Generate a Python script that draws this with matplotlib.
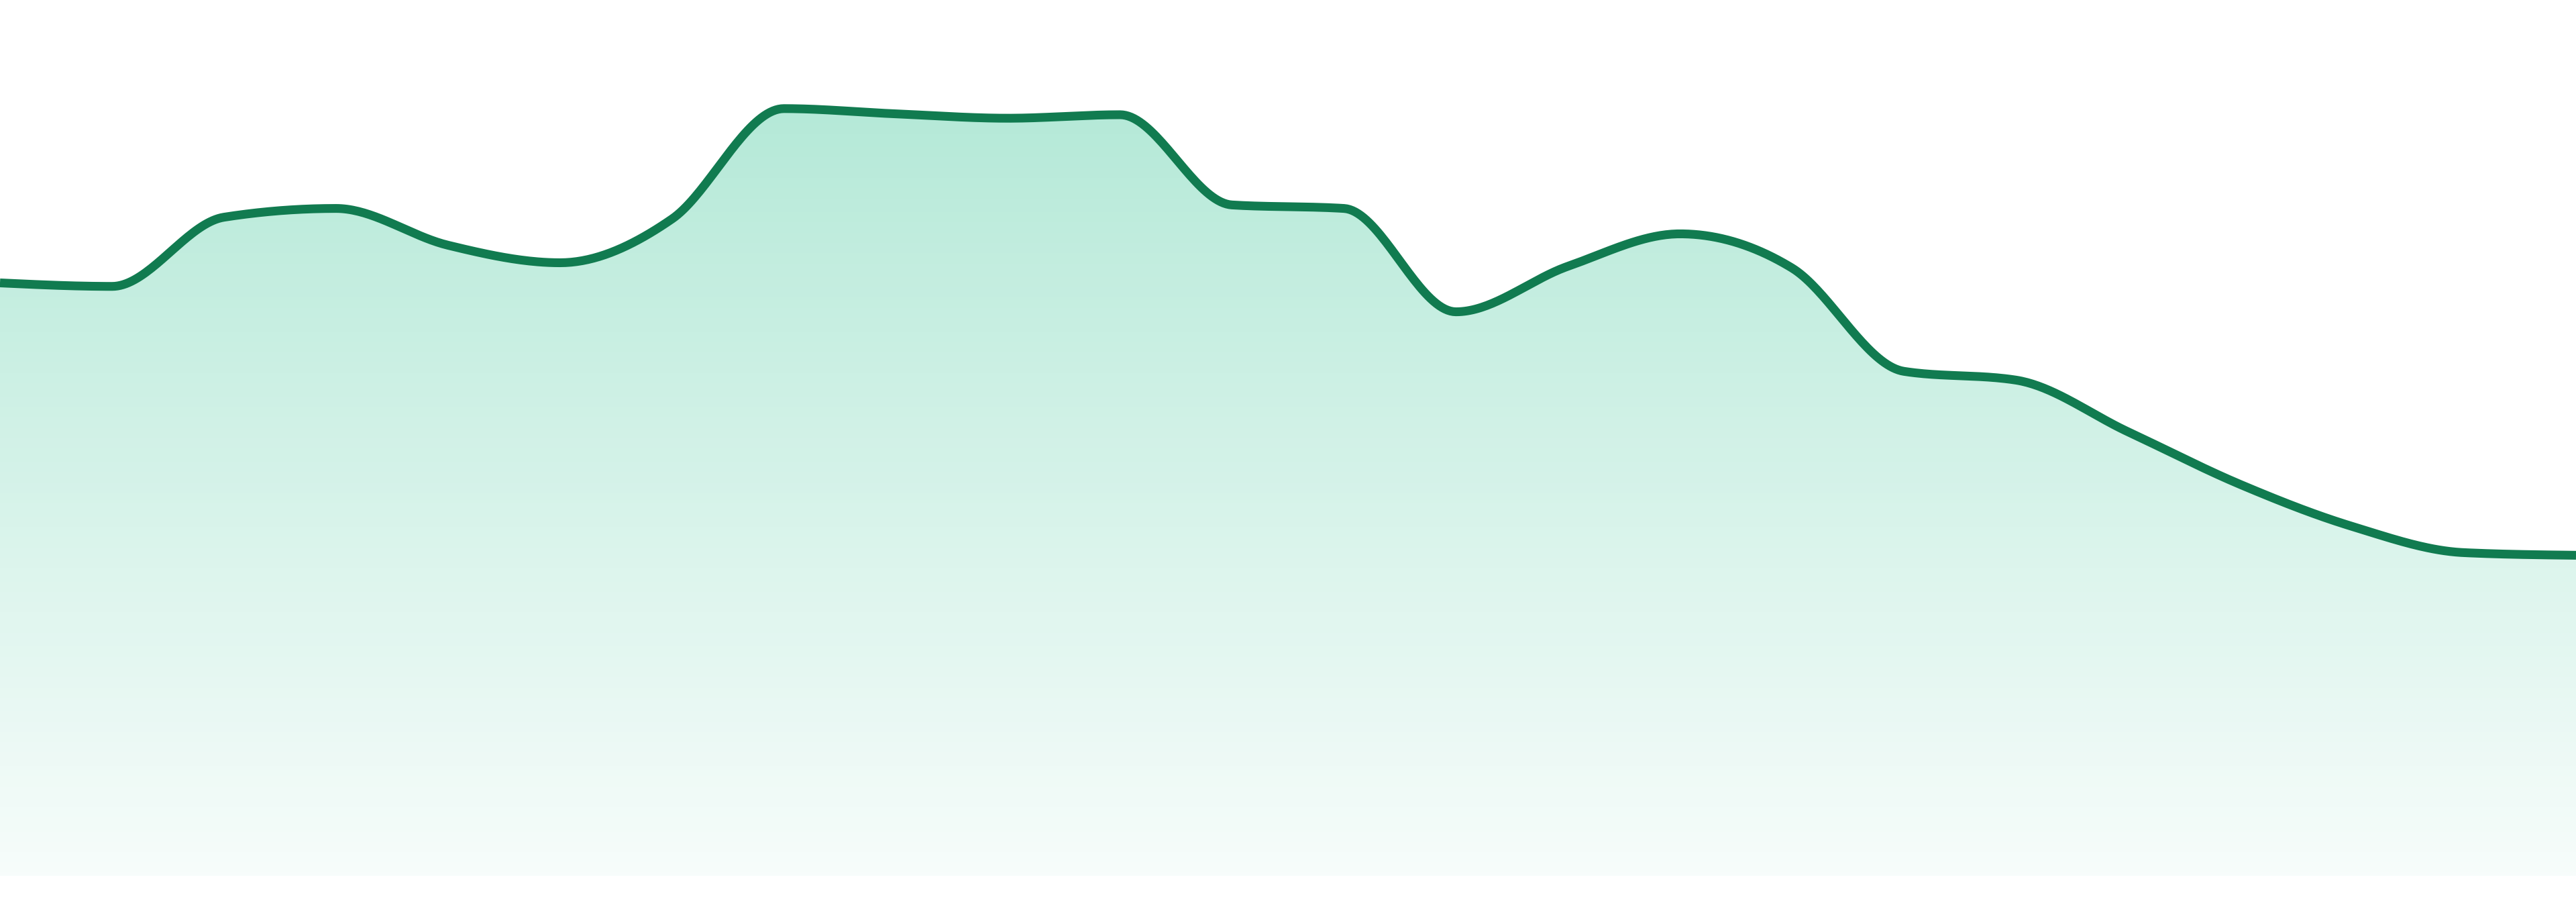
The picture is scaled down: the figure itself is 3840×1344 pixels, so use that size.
import numpy as np
import matplotlib
matplotlib.use('Agg')
import matplotlib.pyplot as plt
from matplotlib.patches import PathPatch
from matplotlib.path import Path

# values (24 evenly spaced points)
x = np.arange(24)
values = [67.7, 67.3, 75.2, 76.2, 72.0, 70.0, 75.0, 87.6, 87.0, 86.5, 86.9, 76.6,
          76.2, 64.4, 69.6, 73.3, 69.4, 57.6, 56.6, 50.7, 44.7, 39.9, 36.9, 36.6]

line_color = '#117b50'
fill_rgb = (16 / 255, 185 / 255, 129 / 255)


# monotone cubic (like d3 curveMonotoneX)
def monotone(xs, ys, n=40):
    xs = np.asarray(xs, float)
    ys = np.asarray(ys, float)
    h = np.diff(xs)
    s = np.diff(ys) / h
    t = np.zeros(len(xs))
    for i in range(1, len(xs) - 1):
        p = (s[i - 1] * h[i] + s[i] * h[i - 1]) / (h[i - 1] + h[i])
        t[i] = (np.sign(s[i - 1]) + np.sign(s[i])) * min(abs(s[i - 1]), abs(s[i]), 0.5 * abs(p))
    t[0] = (3 * s[0] - t[1]) / 2
    t[-1] = (3 * s[-1] - t[-2]) / 2
    px, py = [], []
    for i in range(len(xs) - 1):
        u = np.linspace(0, 1, n, endpoint=False)
        h00 = 2 * u**3 - 3 * u**2 + 1
        h10 = u**3 - 2 * u**2 + u
        h01 = -2 * u**3 + 3 * u**2
        h11 = u**3 - u**2
        px.append(xs[i] + u * h[i])
        py.append(h00 * ys[i] + h10 * h[i] * t[i] + h01 * ys[i + 1] + h11 * h[i] * t[i + 1])
    px.append([xs[-1]])
    py.append([ys[-1]])
    return np.concatenate(px), np.concatenate(py)


cx, cy = monotone(x, values)

fig = plt.figure(figsize=(38.4, 13.44), dpi=100)
ax = fig.add_axes([0, 1 - 1305 / 1344, 1, 1305 / 1344])

# gradient fill under the curve
grad = np.zeros((256, 1, 4))
grad[:, 0, 0], grad[:, 0, 1], grad[:, 0, 2] = fill_rgb
grad[:, 0, 3] = np.linspace(0.35, 0.035, 256)
img = ax.imshow(grad, extent=[0, 23, 0, 100], aspect='auto', origin='upper', zorder=1)
verts = np.column_stack([np.concatenate([cx, [23, 0]]), np.concatenate([cy, [0, 0]])])
clip = PathPatch(Path(verts, closed=False), transform=ax.transData, facecolor='none', edgecolor='none')
ax.add_patch(clip)
img.set_clip_path(clip)

ax.plot(cx, cy, color=line_color, lw=9.4, solid_capstyle='butt', zorder=3)

# limits after imshow, otherwise the extent resets them
ax.set_xlim(0, 23)
ax.set_ylim(0, 100)
ax.axis('off')

fig.savefig('out.png', dpi=100, facecolor='white')
